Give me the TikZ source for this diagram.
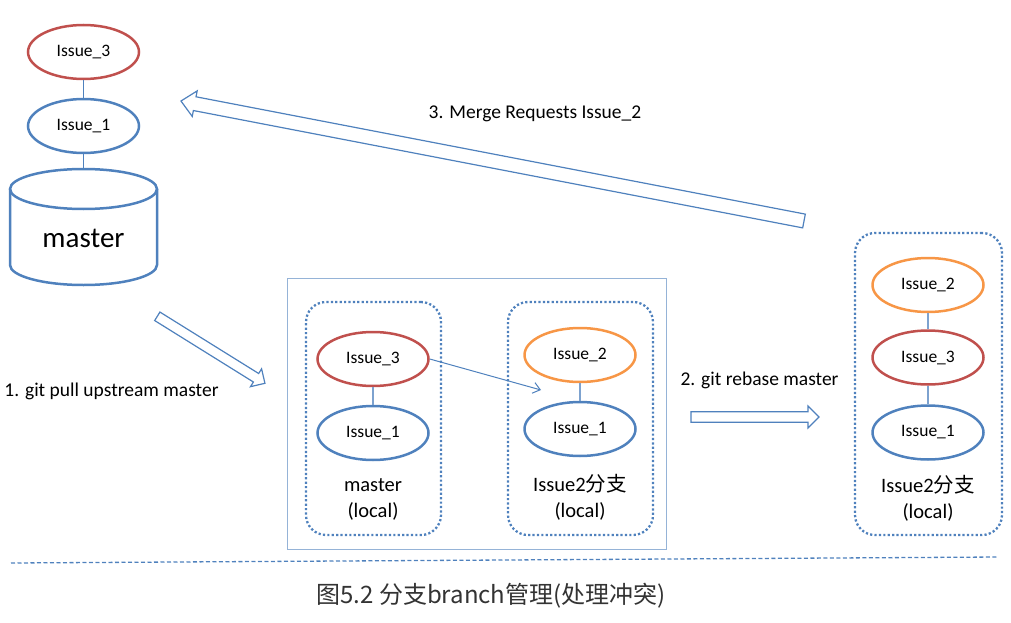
\documentclass[tikz,border=0pt]{standalone}
\usepackage{fontspec}
\setmainfont{Carlito}
\newfontfamily\cjk{Noto Sans CJK SC}
\usetikzlibrary{shapes.geometric,arrows.meta}
\definecolor{bl}{HTML}{4F81BD}
\definecolor{rd}{HTML}{C0504D}
\definecolor{og}{HTML}{F79646}
\definecolor{lb}{HTML}{95B3D7}
\definecolor{cn}{HTML}{7DA2CF}
\begin{document}
\begin{tikzpicture}[x=1pt,y=-1pt,
  commit/.style={ellipse, draw, line width=2.5pt, minimum width=111pt, minimum height=54pt, inner sep=0pt, font=\fontsize{17.5}{20}\selectfont},
  bluec/.style={commit, draw=bl},
  redc/.style={commit, draw=rd},
  orgc/.style={commit, draw=og},
  link/.style={draw=cn, line width=1.3pt},
  dotbox/.style={draw=bl, line width=2.3pt, dash pattern=on 2.2pt off 2.2pt, rounded corners=20pt},
  blockarrow/.style={draw=bl, line width=1.2pt, fill=white, line join=miter},
  lbl/.style={font=\fontsize{19.5}{23}\selectfont},
  boxlbl/.style={align=center, font=\fontsize{20.5}{26}\selectfont}
]
\useasboundingbox (0,0) rectangle (1011,623);

% ---- left: upstream master ----
\node[redc]  (u3) at (83.5,52)  {Issue\_3};
\node[bluec] (u1) at (83.5,126) {Issue\_1};
\coordinate (cyltop) at (83.5,169);
\draw[bl, line width=2.5pt] (10,189) -- (10,265) arc (180:0:73.5 and 20) -- (157,189);
\draw[bl, line width=2.5pt] (83.5,189) ellipse (73.5 and 20);
\node[font=\fontsize{29}{32}\selectfont] (master) at (83.5,238) {master};
\draw[bl, line width=1.2pt] (u3) -- (u1);
\draw[bl, line width=1.2pt] (u1) -- (cyltop);

% ---- middle frame ----
\node[draw=lb, line width=1pt, minimum width=379pt, minimum height=271pt, inner sep=0pt] (frame) at (476.5,413.5) {};
\node[dotbox, minimum width=135pt, minimum height=233pt] (box1) at (373.5,418.5) {};
\node[dotbox, minimum width=145pt, minimum height=233pt] (box2) at (580.5,418.5) {};

\node[redc]  (m3) at (373,359) {Issue\_3};
\node[bluec] (m1) at (373,433) {Issue\_1};
\draw[link] (m3) -- (m1);
\node[boxlbl] (mlbl) at (373,499) {master\\(local)};

\node[orgc]  (b2) at (580,355) {Issue\_2};
\node[bluec] (b1) at (580,429) {Issue\_1};
\draw[link] (b2) -- (b1);
\node[boxlbl] (blbl) at (580,497) {Issue2{\cjk 分支}\\(local)};

\coordinate (tgt) at (541,390);
\draw[bl, line width=1pt, -{Straight Barb[length=7pt,width=11pt]}] (m3.east) -- (tgt);

% ---- right box ----
\node[dotbox, minimum width=147pt, minimum height=302pt] (box3) at (928.5,384) {};
\node[orgc]  (r2) at (928,285)   {Issue\_2};
\node[redc]  (r3) at (928,357.5) {Issue\_3};
\node[bluec] (r1) at (928,432.5) {Issue\_1};
\draw[link] (r2) -- (r3);
\draw[link] (r3) -- (r1);
\node[boxlbl] (rlbl) at (928,498) {Issue2{\cjk 分支}\\(local)};

% ---- block arrows ----
\begin{scope}[shift={(157.3,316.3)}, rotate=-31.9]
  \draw[blockarrow] (0,-5) -- (116.3,-5) -- (116.3,-10.5) -- (126.8,0) -- (116.3,10.5) -- (116.3,5) -- (0,5) -- cycle;
\end{scope}
\begin{scope}[shift={(691,417)}]
  \draw[blockarrow] (0,-5.3) -- (117,-5.3) -- (117,-11) -- (128,0) -- (117,11) -- (117,5.3) -- (0,5.3) -- cycle;
\end{scope}
\begin{scope}[shift={(804,221)}, rotate=169.1]
  \draw[blockarrow] (0,-7) -- (620.5,-7) -- (620.5,-13) -- (634.5,0) -- (620.5,13) -- (620.5,7) -- (0,7) -- cycle;
\end{scope}

\node[lbl] (l1) at (111.5,391) {1. git pull upstream master};
\node[lbl] (l2) at (759.5,380) {2. git rebase master};
\node[lbl] (l3) at (535,114)   {3. Merge Requests Issue\_2};

% ---- separator and caption ----
\draw[bl, line width=1.3pt, dash pattern=on 4pt off 2.5pt] (11,563) -- (998,557);
\node[font=\fontsize{24}{27}\selectfont\cjk, text=black!80] (cap) at (491,596) {图5.2 分支branch管理(处理冲突)};
\end{tikzpicture}
\end{document}
